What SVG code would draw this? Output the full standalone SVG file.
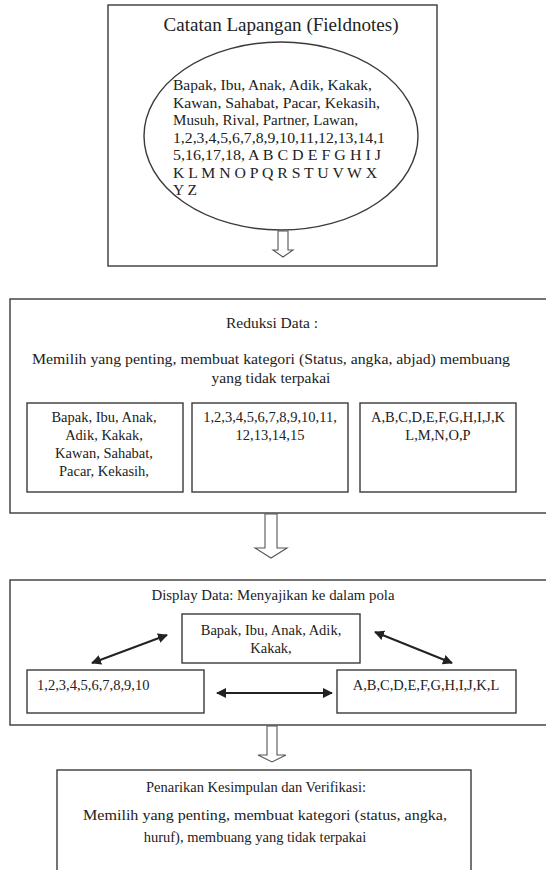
<svg xmlns="http://www.w3.org/2000/svg" width="546" height="870" viewBox="0 0 546 870" font-family="'Liberation Serif', 'Times New Roman', 'DejaVu Serif', serif">
  <defs>
    <style>
      .frame { fill: #ffffff; stroke: #3a3a3a; stroke-width: 1.4; }
      .hollow { fill: #ffffff; stroke: #555555; stroke-width: 1.1; }
      .link { fill: none; stroke: #222222; stroke-width: 2; }
      text { font-family: 'Liberation Serif', 'Times New Roman', 'DejaVu Serif', serif; fill: #222222; }
      .title { font-size: 19px; text-anchor: middle; }
      .body { font-size: 15.5px; }
      .mid { text-anchor: middle; }
      .small { font-size: 14.5px; }
    </style>
    <marker id="head" viewBox="0 0 10 10" refX="9" refY="5" markerWidth="5" markerHeight="5" orient="auto-start-reverse" markerUnits="strokeWidth">
      <path d="M0,0 L10,5 L0,10 Z" fill="#222222"/>
    </marker>
  </defs>

  <rect width="546" height="870" fill="#ffffff"/>

  <!-- Stage 1: field notes -->
  <g id="fieldnotes">
    <rect class="frame" x="108" y="5" width="329" height="261"/>
    <text class="title" x="281" y="31" textLength="235" lengthAdjust="spacingAndGlyphs">Catatan Lapangan (Fieldnotes)</text>
    <ellipse class="frame" cx="281" cy="136" rx="137" ry="94"/>
    <g class="body">
      <text x="173" y="90" textLength="199" lengthAdjust="spacingAndGlyphs">Bapak, Ibu, Anak, Adik, Kakak,</text>
      <text x="173" y="107.5" textLength="207" lengthAdjust="spacingAndGlyphs">Kawan, Sahabat, Pacar, Kekasih,</text>
      <text x="173" y="125" textLength="185" lengthAdjust="spacingAndGlyphs">Musuh, Rival, Partner, Lawan,</text>
      <text x="173" y="142.5" textLength="212" lengthAdjust="spacingAndGlyphs">1,2,3,4,5,6,7,8,9,10,11,12,13,14,1</text>
      <text x="173" y="160" textLength="208" lengthAdjust="spacingAndGlyphs">5,16,17,18, A B C D E F G H I J</text>
      <text x="173" y="177.5" textLength="204" lengthAdjust="spacingAndGlyphs">K L M N O P Q R S T U V W X</text>
      <text x="173" y="195">Y Z</text>
    </g>
  </g>

  <!-- Stage 2: data reduction -->
  <g id="reduksi">
    <rect class="frame" x="10" y="299" width="540" height="214"/>
    <text class="body mid" x="272" y="328">Reduksi Data :</text>
    <text class="body mid" x="271" y="364" textLength="478" lengthAdjust="spacingAndGlyphs">Memilih yang penting, membuat kategori (Status, angka, abjad) membuang</text>
    <text class="body mid" x="271" y="383">yang tidak terpakai</text>
  </g>
  <g id="reduksi-status">
    <rect class="frame" x="27" y="403" width="156" height="89"/>
    <text class="small mid" x="104" y="422">Bapak, Ibu, Anak,</text>
    <text class="small mid" x="104" y="440">Adik, Kakak,</text>
    <text class="small mid" x="104" y="458">Kawan, Sahabat,</text>
    <text class="small mid" x="104" y="476">Pacar, Kekasih,</text>
  </g>
  <g id="reduksi-angka">
    <rect class="frame" x="192" y="403" width="156" height="89"/>
    <text class="small mid" x="270" y="422">1,2,3,4,5,6,7,8,9,10,11,</text>
    <text class="small mid" x="270" y="440">12,13,14,15</text>
  </g>
  <g id="reduksi-abjad">
    <rect class="frame" x="360" y="403" width="156" height="89"/>
    <text class="small mid" x="438" y="422">A,B,C,D,E,F,G,H,I,J,K</text>
    <text class="small mid" x="438" y="440">L,M,N,O,P</text>
  </g>

  <!-- Stage 3: data display -->
  <g id="display">
    <rect class="frame" x="10" y="580" width="540" height="145"/>
    <text class="small mid" x="273" y="600" textLength="243" lengthAdjust="spacingAndGlyphs">Display Data: Menyajikan ke dalam pola</text>
  </g>
  <g id="display-status">
    <rect class="frame" x="182" y="614" width="178" height="49"/>
    <text class="small mid" x="271" y="635">Bapak, Ibu, Anak, Adik,</text>
    <text class="small mid" x="271" y="653">Kakak,</text>
  </g>
  <g id="display-angka">
    <rect class="frame" x="27" y="670" width="177" height="43"/>
    <text class="small" x="37" y="690">1,2,3,4,5,6,7,8,9,10</text>
  </g>
  <g id="display-abjad">
    <rect class="frame" x="337" y="670" width="179" height="43"/>
    <text class="small mid" x="426" y="690">A,B,C,D,E,F,G,H,I,J,K,L</text>
  </g>

  <!-- Stage 4: conclusion -->
  <g id="kesimpulan">
    <rect class="frame" x="57" y="770" width="414" height="110"/>
    <text class="small mid" x="256" y="792">Penarikan Kesimpulan dan Verifikasi:</text>
    <text class="small mid" x="265" y="820" textLength="364" lengthAdjust="spacingAndGlyphs">Memilih yang penting, membuat kategori (status, angka,</text>
    <text class="small mid" x="255" y="842">huruf), membuang yang tidak terpakai</text>
  </g>

  <!-- Connectors -->
  <g id="connectors">
    <polygon class="hollow" points="278,231 278,250 273,250 283,257 293,250 288,250 288,231"/>
    <polygon class="hollow" points="265,514 265,548 255,548 271,558 287,548 277,548 277,514"/>
    <polygon class="hollow" points="267,726 267,755 258,755 272,762 286,755 277,755 277,726"/>
    <line class="link" x1="167" y1="635" x2="92" y2="663" marker-start="url(#head)" marker-end="url(#head)"/>
    <line class="link" x1="375" y1="632" x2="452" y2="663" marker-start="url(#head)" marker-end="url(#head)"/>
    <line class="link" x1="217" y1="693" x2="332" y2="693" marker-start="url(#head)" marker-end="url(#head)"/>
  </g>
</svg>
